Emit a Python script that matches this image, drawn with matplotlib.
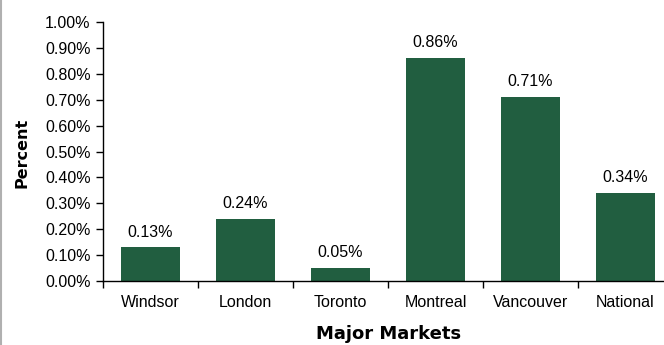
import matplotlib
matplotlib.use('Agg')
import matplotlib.pyplot as plt
from matplotlib.lines import Line2D

markets = ['Windsor', 'London', 'Toronto', 'Montreal', 'Vancouver', 'National']
rates = [0.13, 0.24, 0.05, 0.86, 0.71, 0.34]
bar_labels = ['0.13%', '0.24%', '0.05%', '0.86%', '0.71%', '0.34%']
y_ticks = [0.0, 0.1, 0.2, 0.3, 0.4, 0.5, 0.6, 0.7, 0.8, 0.9, 1.0]

plt.rcParams['font.family'] = ['Liberation Sans', 'DejaVu Sans']

fig = plt.figure(figsize=(6.64, 3.45), dpi=100)
# axes spans 103..673 px horizontally (clipped by the figure edge), 22..281 px vertically
ax = fig.add_axes([103 / 664, 1 - 281 / 345, 570 / 664, 259 / 345])

x = list(range(len(markets)))
ax.bar(x, rates, width=0.63, color='#215E40', zorder=2)
for xi, v, lab in zip(x, rates, bar_labels):
    ax.text(xi, v + 0.03, lab, ha='center', va='bottom', fontsize=11.5)

ax.set_xlim(-0.5, 5.5)
ax.set_ylim(0, 1.0)
ax.set_yticks(y_ticks)
ax.set_yticklabels([f'{t:.2f}%' for t in y_ticks], fontsize=11.5)

ax.set_xticks(x)
ax.set_xticklabels(markets, fontsize=11.5)
ax.tick_params(axis='x', which='major', length=0, pad=10)
ax.set_xticks([i - 0.5 for i in range(len(markets) + 1)], minor=True)
ax.tick_params(axis='x', which='minor', length=5, direction='out', width=1)
ax.tick_params(axis='y', length=5, direction='out', width=1, pad=4)

for side in ['top', 'right']:
    ax.spines[side].set_visible(False)
ax.spines['left'].set_linewidth(1)
ax.spines['bottom'].set_linewidth(1)

fig.text(22 / 664, 1 - 153 / 345, 'Percent', fontsize=11.5, family='DejaVu Sans',
         fontweight='bold', rotation=90, ha='center', va='center')
fig.text(389 / 664, 1 - 334 / 345, 'Major Markets', fontsize=13,
         family='DejaVu Sans', fontweight='bold', ha='center', va='center')

fig.add_artist(Line2D([1 / 664, 1 / 664], [0, 1], color='#b0b0b0',
                      linewidth=1.5, transform=fig.transFigure))

fig.savefig('out.png', dpi=100)
plt.close(fig)
